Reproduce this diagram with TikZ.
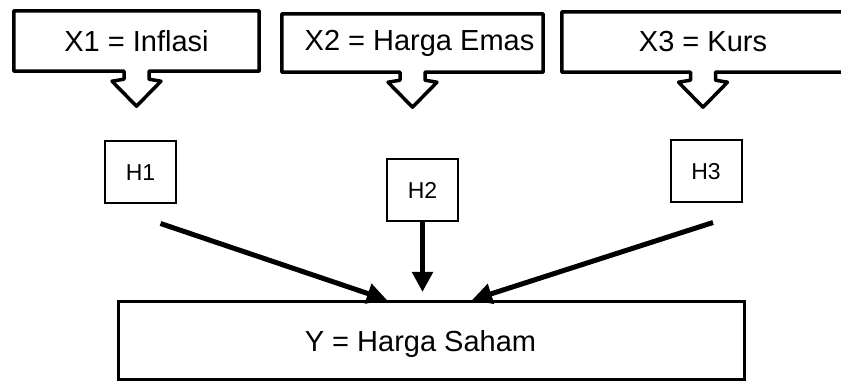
\documentclass[tikz,border=0pt]{standalone}
\usepackage{fontspec}
\setmainfont{Liberation Sans}
\usetikzlibrary{arrows.meta, calc, positioning}

\tikzset{
    varbox/.style={minimum height=60pt, inner sep=0pt, font=\fontsize{29}{33}\selectfont},
    callout/.style={line width=3.5pt, line join=round},
    hipbox/.style={draw, line width=2pt, minimum width=71pt, minimum height=62pt, inner sep=0pt, font=\fontsize{23}{27}\selectfont},
    ybox/.style={draw, line width=3pt, minimum width=626pt, minimum height=78pt, inner sep=0pt},
    impact/.style={line width=5pt, -{Triangle[length=20pt, width=20pt]}}
}

\begin{document}
\begin{tikzpicture}[x=1pt, y=-1pt]
    \useasboundingbox (0,0) rectangle (841,387);

    % variabel bebas
    \node[varbox, minimum width=245pt] (x1) at (136.5,41) {X1 = Inflasi};
    \node[varbox, minimum width=261pt, minimum height=58pt,
        label={[font=\fontsize{29}{33}\selectfont, xshift=7pt]center:X2 = Harga Emas}] (x2) at (412.5,43) {};
    \node[varbox, minimum width=282pt] (x3) at (703,42) {X3 = Kurs};

    % kotak dengan panah ke bawah
    \foreach \v in {x1,x2,x3}
        \draw[callout] (\v.south west) -- (\v.north west) -- (\v.north east) -- (\v.south east)
            -- ($(\v.south)+(12.5,0)$) -- ++(0,8) -- ++(12,2) -- ($(\v.south)+(0,35)$)
            -- ++(-24.5,-25) -- ++(12,-2) -- ++(0,-8) -- cycle;

    % hipotesis
    \node[hipbox] (h1) at (140.5,172.5) {H1};
    \node[hipbox] (h2) at (422.5,190) {H2};
    \node[hipbox] (h3) at (706,171.5) {H3};

    % variabel terikat
    \node[ybox, label={[font=\fontsize{29}{33}\selectfont, xshift=-11pt, yshift=-4pt]center:Y = Harga Saham}] (y) at (431.5,340.5) {};

    % pengaruh
    \draw[impact] ([xshift=20pt, yshift=-19pt]h1.south) -- ([xshift=-44.5pt]y.north);
    \draw[impact, shorten >=8pt] (h2.south) -- (h2.south |- y.north);
    \draw[impact] ([xshift=7pt, yshift=-19pt]h3.south) -- ([xshift=40.5pt]y.north);
\end{tikzpicture}
\end{document}
